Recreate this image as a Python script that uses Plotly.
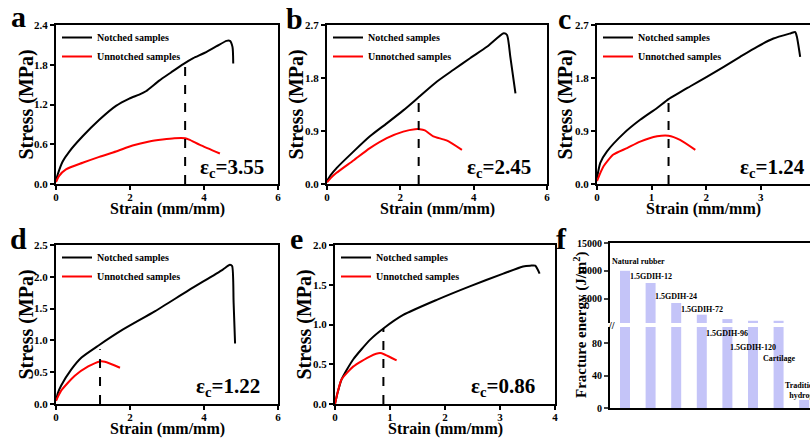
import plotly.graph_objects as go

W, H = 810, 439

# ---------------- data ----------------
# panel a
a_notch_x = [0, 0.05, 0.18, 0.36, 0.72, 1.17, 1.62, 1.98, 2.25, 2.43, 2.79, 3.1, 3.44, 3.71, 3.98, 4.34, 4.61, 4.70, 4.77, 4.79]
a_notch_y = [0.05, 0.15, 0.34, 0.49, 0.72, 0.97, 1.18, 1.29, 1.35, 1.40, 1.56, 1.68, 1.81, 1.90, 1.97, 2.08, 2.16, 2.16, 2.07, 1.82]
a_un_x = [0, 0.08, 0.27, 0.72, 1.17, 1.62, 2.07, 2.52, 2.88, 3.2, 3.49, 3.6, 3.89, 4.43]
a_un_y = [0.03, 0.12, 0.22, 0.32, 0.41, 0.49, 0.58, 0.64, 0.67, 0.69, 0.69, 0.67, 0.59, 0.46]
a_dash_x = [3.49, 3.49]
a_dash_y = [0, 1.78]
a_ec = "3.55"

# panel b
b_notch_x = [0, 0.1, 0.26, 0.72, 1.17, 1.63, 2.08, 2.53, 3.0, 3.45, 3.91, 4.36, 4.82, 4.91, 5.0, 5.14]
b_notch_y = [0.05, 0.15, 0.27, 0.55, 0.81, 1.03, 1.25, 1.49, 1.74, 1.94, 2.14, 2.33, 2.56, 2.53, 2.16, 1.54]
b_un_x = [0, 0.1, 0.26, 0.72, 1.17, 1.63, 2.08, 2.4, 2.53, 2.67, 2.9, 3.26, 3.68]
b_un_y = [0.03, 0.10, 0.19, 0.40, 0.61, 0.78, 0.89, 0.93, 0.93, 0.91, 0.81, 0.74, 0.58]
b_dash_x = [2.5, 2.5]
b_dash_y = [0, 1.51]
b_ec = "2.45"

# panel c
c_notch_x = [0, 0.06, 0.18, 0.49, 0.79, 1.1, 1.31, 1.71, 2.01, 2.32, 2.62, 2.93, 3.23, 3.55, 3.63, 3.66, 3.72]
c_notch_y = [0.10, 0.36, 0.55, 0.86, 1.09, 1.29, 1.44, 1.66, 1.82, 1.99, 2.16, 2.33, 2.47, 2.56, 2.58, 2.5, 2.16]
c_un_x = [0, 0.12, 0.3, 0.55, 0.79, 1.1, 1.31, 1.52, 1.8]
c_un_y = [0.05, 0.30, 0.50, 0.61, 0.72, 0.81, 0.82, 0.75, 0.58]
c_dash_x = [1.31, 1.31]
c_dash_y = [0, 1.44]
c_ec = "1.24"

# panel d
d_notch_x = [0, 0.05, 0.14, 0.41, 0.69, 1.15, 1.78, 2.68, 3.59, 4.5, 4.70, 4.76, 4.80, 4.84]
d_notch_y = [0.05, 0.17, 0.29, 0.54, 0.73, 0.92, 1.16, 1.46, 1.79, 2.11, 2.19, 2.17, 1.6, 0.95]
d_un_x = [0, 0.14, 0.5, 0.87, 1.19, 1.32, 1.73]
d_un_y = [0.05, 0.21, 0.44, 0.59, 0.67, 0.665, 0.57]
d_dash_x = [1.19, 1.19]
d_dash_y = [0, 0.86]
d_ec = "1.22"

# panel e
e_notch_x = [0, 0.05, 0.12, 0.33, 0.64, 0.88, 1.24, 1.85, 2.45, 3.06, 3.42, 3.55, 3.64, 3.72]
e_notch_y = [0, 0.15, 0.31, 0.56, 0.81, 0.95, 1.12, 1.31, 1.48, 1.64, 1.73, 1.74, 1.74, 1.64]
e_un_x = [0, 0.05, 0.12, 0.33, 0.64, 0.82, 0.91, 1.12]
e_un_y = [0, 0.15, 0.31, 0.47, 0.60, 0.64, 0.62, 0.55]
e_dash_x = [0.88, 0.88]
e_dash_y = [0, 0.95]
e_ec = "0.86"

# panel f
f_categories = ["Natural rubber", "1.5GDIH-12", "1.5GDIH-24", "1.5GDIH-72",
                "1.5GDIH-96", "1.5GDIH-120", "Cartilage", "Traditional<br>hydrogel"]
f_values = [10000, 7800, 4200, 2100, 1300, 1000, 1000, 10]
f_label_y_upper = [11600, 8900, 5300, 3100]          # labels in the upper segment
f_label_y_lower = [92, 75, 61, 22]                   # labels in the lower segment
f_upper_ticks = [5000, 10000, 15000]
f_lower_ticks = [0, 40, 80]

# ---------------- styling ----------------
SERIF = "Liberation Serif"
def bf(size):
    return dict(family=SERIF, size=size, color="black", weight="bold")

def px_x(p):
    return p / W
def px_y(p):
    return 1 - p / H

BLACK = "black"
RED = "#ff0000"

fig = go.Figure()

panels = [
    ("", a_notch_x, a_notch_y, a_un_x, a_un_y, a_dash_x, a_dash_y, "legend"),
    ("2", b_notch_x, b_notch_y, b_un_x, b_un_y, b_dash_x, b_dash_y, "legend2"),
    ("3", c_notch_x, c_notch_y, c_un_x, c_un_y, c_dash_x, c_dash_y, "legend3"),
    ("4", d_notch_x, d_notch_y, d_un_x, d_un_y, d_dash_x, d_dash_y, "legend4"),
    ("5", e_notch_x, e_notch_y, e_un_x, e_un_y, e_dash_x, e_dash_y, "legend5"),
]
for s, nx, ny, ux, uy, dx, dy, lg in panels:
    fig.add_trace(go.Scatter(x=nx, y=ny, mode="lines", name="Notched samples",
                             line=dict(color=BLACK, width=2, shape="spline", smoothing=0.6),
                             xaxis="x" + s, yaxis="y" + s, legend=lg))
    fig.add_trace(go.Scatter(x=ux, y=uy, mode="lines", name="Unnotched samples",
                             line=dict(color=RED, width=2, shape="spline", smoothing=0.6),
                             xaxis="x" + s, yaxis="y" + s, legend=lg))
    fig.add_trace(go.Scatter(x=dx, y=dy, mode="lines", showlegend=False,
                             line=dict(color=BLACK, width=2, dash="dash"),
                             xaxis="x" + s, yaxis="y" + s))

# panel f bars: lower (x6/y6) and upper (x7/y7) segments of a broken axis
BAR = "rgb(196,196,248)"
fig.add_trace(go.Bar(x=f_categories, y=f_values, marker=dict(color=BAR, line=dict(width=0)),
                     width=0.39, showlegend=False, xaxis="x6", yaxis="y6"))
fig.add_trace(go.Bar(x=f_categories, y=f_values, marker=dict(color=BAR, line=dict(width=0)),
                     width=0.39, showlegend=False, xaxis="x7", yaxis="y7"))

def ax(domain, rng, dtick, fmt=None, anchor=None, mirror=True, standoff=0):
    d = dict(domain=domain, range=rng, showline=True, linecolor="black", linewidth=2,
             mirror=mirror, ticks="outside", ticklen=4, tickwidth=2, tickcolor="black",
             showgrid=False, zeroline=False, tickfont=bf(11), automargin=False,
             dtick=dtick, tick0=0, anchor=anchor, ticklabelstandoff=standoff)
    if fmt:
        d["tickformat"] = fmt
    return d

top_y = [px_y(184), px_y(25)]
bot_y = [px_y(404), px_y(245)]

layout = dict(
    width=W, height=H, margin=dict(l=0, r=0, t=0, b=0, autoexpand=False),
    paper_bgcolor="white", plot_bgcolor="white",
    xaxis=ax([px_x(56), px_x(278)], [0, 6], 2, anchor="y", standoff=-2),
    yaxis=ax(top_y, [0, 2.4], 0.6, ".1f", anchor="x"),
    xaxis2=ax([px_x(327), px_x(547)], [0, 6], 2, anchor="y2", standoff=-2),
    yaxis2=ax(top_y, [0, 2.7], 0.9, ".1f", anchor="x2"),
    xaxis3=ax([px_x(597), 1.0], [0, 3.9], 1, anchor="y3", standoff=-2),
    yaxis3=ax(top_y, [0, 2.7], 0.9, ".1f", anchor="x3", mirror=False),
    xaxis4=ax([px_x(56), px_x(278)], [0, 6], 2, anchor="y4", standoff=-2),
    yaxis4=ax(bot_y, [0, 2.5], 0.5, ".1f", anchor="x4"),
    xaxis5=ax([px_x(335), px_x(555)], [0, 4], 1, anchor="y5", standoff=-2),
    yaxis5=ax(bot_y, [0, 2.0], 0.5, ".1f", anchor="x5"),
)

# panel f axes
f_xdom = [px_x(610), 1.0]
layout["xaxis6"] = dict(domain=f_xdom, range=[-0.586, 7.227], anchor="y6", showline=True,
                        linecolor="black", linewidth=2, mirror=False, ticks="",
                        showticklabels=False, showgrid=False, zeroline=False, automargin=False)
layout["yaxis6"] = dict(domain=[px_y(408), px_y(327)], range=[0, 100], anchor="x6",
                        tickvals=f_lower_ticks, showline=True, linecolor="black", linewidth=2,
                        ticks="outside", ticklen=4, tickwidth=2, showgrid=False,
                        zeroline=False, tickfont=bf(10), automargin=False)
layout["xaxis7"] = dict(domain=f_xdom, range=[-0.586, 7.227], anchor="y7", matches="x6",
                        side="top", showline=True, linecolor="black", linewidth=2,
                        ticks="", showticklabels=False, showgrid=False, zeroline=False,
                        automargin=False)
layout["yaxis7"] = dict(domain=[px_y(323), px_y(243)], range=[600, 15000], anchor="x7",
                        tickvals=f_upper_ticks, tickformat="d", showline=True,
                        linecolor="black", linewidth=2,
                        ticks="outside", ticklen=4, tickwidth=2, showgrid=False,
                        zeroline=False, tickfont=bf(10), automargin=False)

# legends
def leg(xp, yp):
    return dict(x=px_x(xp), y=px_y(yp), xanchor="left", yanchor="top",
                bgcolor="rgba(0,0,0,0)", font=bf(10), tracegroupgap=0,
                itemwidth=30)
layout["legend"] = leg(57, 23)
layout["legend2"] = leg(328, 23)
layout["legend3"] = leg(598, 23)
layout["legend4"] = leg(57, 243)
layout["legend5"] = leg(336, 243)

fig.update_layout(**layout)

# annotations
ann = []
letters = [("a", 18, 17), ("b", 294, 19), ("c", 564, 19), ("d", 18, 238), ("e", 296, 238), ("f", 561, 238)]
for t, xp, yp in letters:
    ann.append(dict(text=t, x=px_x(xp), y=px_y(yp), xref="paper", yref="paper",
                    xanchor="center", yanchor="middle", showarrow=False, font=bf(30)))

# axis titles
for s, yshift_x, xshift_y in [("", -25, -30), ("2", -25, -31), ("3", -25, -32),
                              ("4", -25, -30), ("5", -25, -31)]:
    ann.append(dict(text="Strain (mm/mm)", x=0.5, y=0, xref="x%s domain" % s,
                    yref="y%s domain" % s, yshift=yshift_x, xanchor="center",
                    yanchor="middle", showarrow=False, font=bf(16), borderpad=0))
    ann.append(dict(text="Stress (MPa)", x=0, y=0.5, xref="x%s domain" % s,
                    yref="y%s domain" % s, xshift=xshift_y, textangle=-90,
                    xanchor="center", yanchor="middle", showarrow=False, font=bf(20)))

ecs = [("x", "y", a_ec, 0.946, 0.10), ("x2", "y2", b_ec, 0.936, 0.10),
       ("x3", "y3", c_ec, 0.986, 0.10), ("x4", "y4", d_ec, 0.93, 0.107),
       ("x5", "y5", e_ec, 0.92, 0.107)]
for xr, yr, v, xx, yy in ecs:
    ann.append(dict(text="ε<sub>c</sub>=" + v, x=xx, y=yy, xref=xr + " domain",
                    yref=yr + " domain", xanchor="right", yanchor="middle",
                    showarrow=False, font=bf(21)))

# panel f labels
for i in range(4):
    ann.append(dict(text=f_categories[i], x=i, y=f_label_y_upper[i], xref="x7", yref="y7",
                    xanchor="center", yanchor="middle", showarrow=False, font=bf(8),
                    xshift=13 if i == 0 else 0))
for j in range(4):
    i = j + 4
    ann.append(dict(text=f_categories[i], x=i, y=f_label_y_lower[j], xref="x6", yref="y6",
                    xanchor="center", yanchor="middle", showarrow=False, font=bf(8)))

ann.append(dict(text="Fracture energy (J/m<sup>2</sup>)", x=px_x(580), y=px_y(325),
                xref="paper", yref="paper", textangle=-90, showarrow=False,
                xanchor="center", yanchor="middle", font=bf(15)))
ann.append(dict(text="//", x=px_x(611), y=px_y(325), xref="paper", yref="paper",
                showarrow=False, xanchor="center", yanchor="middle", font=bf(10)))

fig.update_layout(annotations=ann)
fig.write_html("out.html", config={"displayModeBar": False},
               post_script="document.body.style.margin='0px';document.body.style.overflow='hidden';")
